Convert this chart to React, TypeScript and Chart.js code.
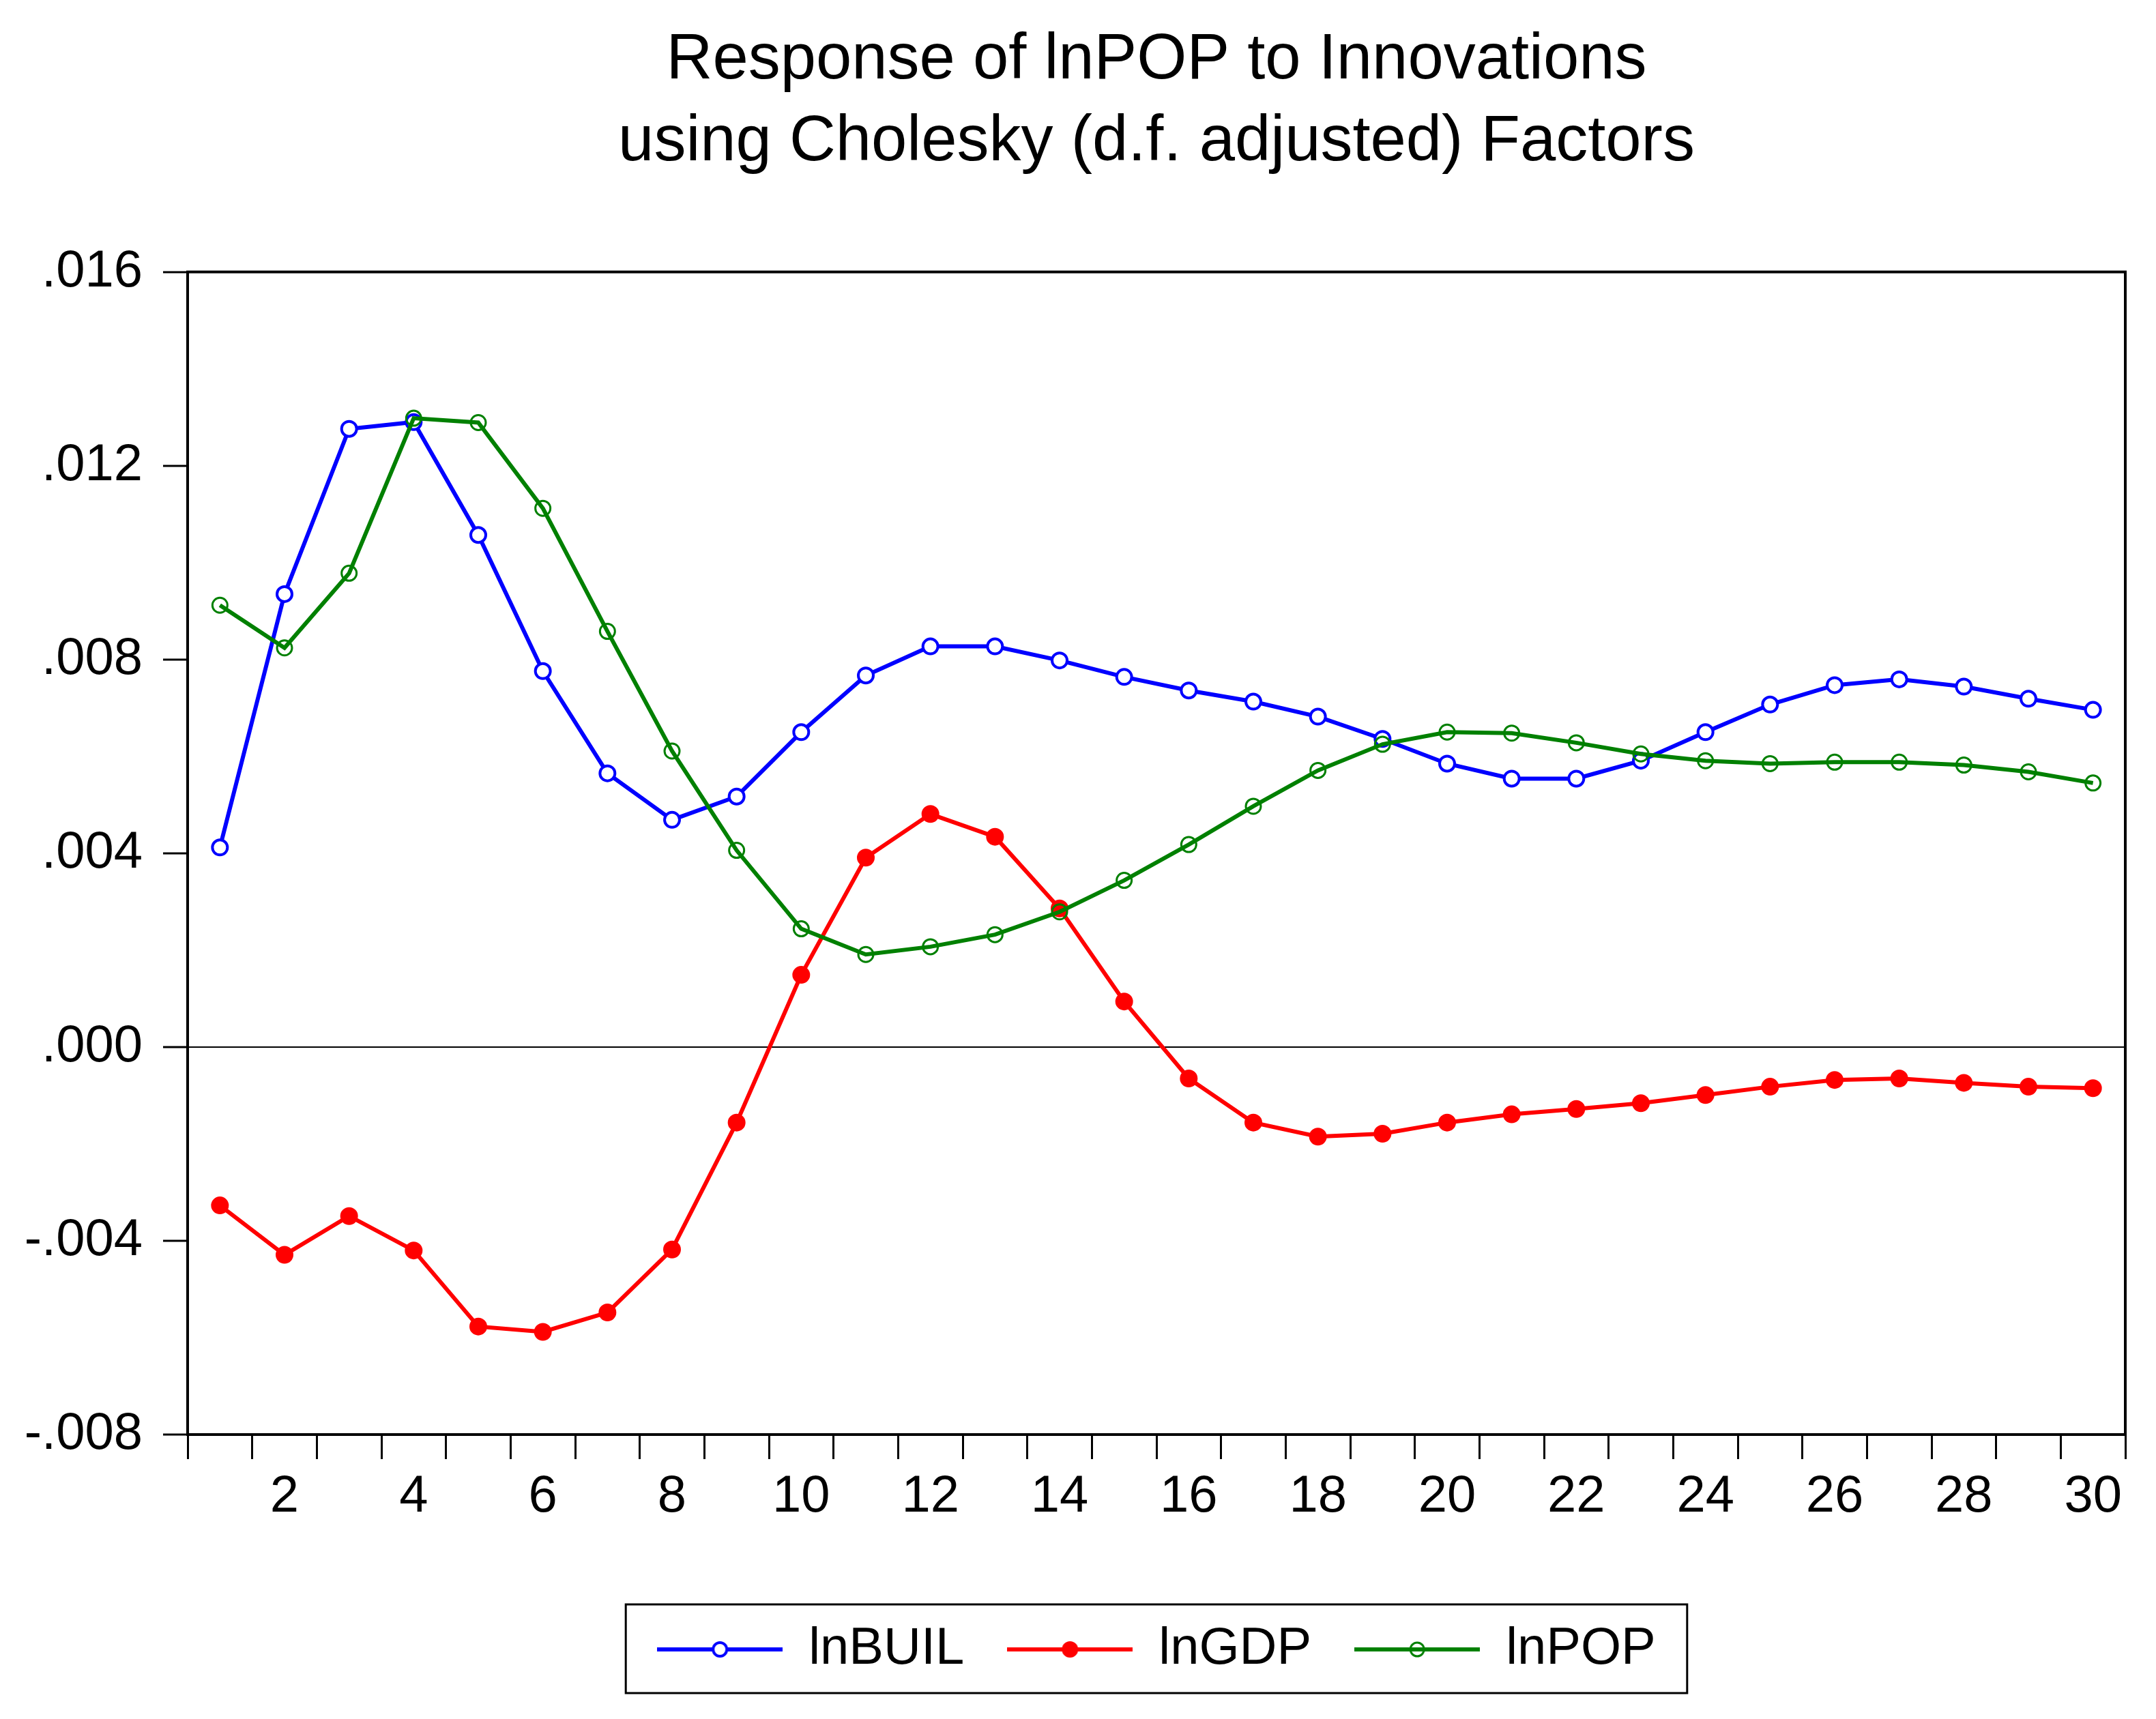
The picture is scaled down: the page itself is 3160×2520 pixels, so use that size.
import { useEffect, useRef } from "react";
import { Chart, registerables } from "chart.js";

Chart.register(...registerables);

const periods = [
  "1", "2", "3", "4", "5", "6", "7", "8", "9", "10",
  "11", "12", "13", "14", "15", "16", "17", "18", "19", "20",
  "21", "22", "23", "24", "25", "26", "27", "28", "29", "30",
];

const lnBUIL = [
  0.00412, 0.00935, 0.01276, 0.0129, 0.01057, 0.00776, 0.00565, 0.00469, 0.00517, 0.0065,
  0.00767, 0.00827, 0.00827, 0.00798, 0.00764, 0.00736, 0.00713, 0.00682, 0.00636, 0.00585,
  0.00554, 0.00554, 0.00591, 0.0065, 0.00707, 0.00747, 0.00759, 0.00744, 0.00719, 0.00696,
];

const lnGDP = [
  -0.00327, -0.00429, -0.00349, -0.0042, -0.00577, -0.00588, -0.00548, -0.00418, -0.00156, 0.00149,
  0.00391, 0.00481, 0.00434, 0.00286, 0.00094, -0.00065, -0.00156, -0.00185, -0.00179, -0.00156,
  -0.00139, -0.00128, -0.00116, -0.00099, -0.00082, -0.00068, -0.00065, -0.00074, -0.00082, -0.00085,
];

const lnPOP = [
  0.00912, 0.00824, 0.00978, 0.01298, 0.01289, 0.01112, 0.00858, 0.00611, 0.00406, 0.00244,
  0.00191, 0.00207, 0.00232, 0.00279, 0.00344, 0.00418, 0.00497, 0.00571, 0.00625, 0.0065,
  0.00648, 0.00628, 0.00605, 0.00591, 0.00585, 0.00588, 0.00588, 0.00582, 0.00568, 0.00545,
];

const titleLines = ["Response of lnPOP to Innovations", "using Cholesky (d.f. adjusted) Factors"];
const yMin = -0.008;
const yMax = 0.016;
const yStep = 0.004;

const FONT = "'Liberation Sans', Arial, sans-serif";

const series = [
  { label: "lnBUIL", data: lnBUIL, color: "#0000ff", fill: "#ffffff", radius: 11, border: 4, order: 2 },
  { label: "lnGDP", data: lnGDP, color: "#ff0000", fill: "#ff0000", radius: 12, border: 2, order: 1 },
  { label: "lnPOP", data: lnPOP, color: "#008000", fill: "rgba(0,0,0,0)", radius: 11, border: 3, order: 0 },
];

// line + marker sample for the legend
function swatch(color: string, fill: string, radius: number, border: number) {
  const c = document.createElement("canvas");
  c.width = 184;
  c.height = 34;
  const g = c.getContext("2d")!;
  g.strokeStyle = color;
  g.lineWidth = 6;
  g.beginPath();
  g.moveTo(0, 17);
  g.lineTo(184, 17);
  g.stroke();
  g.beginPath();
  g.arc(92, 17, radius - 1, 0, Math.PI * 2);
  g.fillStyle = fill;
  g.fill();
  g.lineWidth = border;
  g.stroke();
  return c;
}

const framePlugin = {
  id: "frame",
  afterDatasetsDraw(chart: any) {
    const { ctx, chartArea: a } = chart;
    ctx.save();
    ctx.strokeStyle = "#000";
    ctx.lineWidth = 4;
    ctx.strokeRect(a.left, a.top, a.right - a.left, a.bottom - a.top);
    ctx.restore();
  },
};

const legendBoxPlugin = {
  id: "legendBox",
  afterDraw(chart: any) {
    const boxes = chart.legend?.legendHitBoxes;
    if (!boxes || !boxes.length) return;
    const { ctx } = chart;
    const left = Math.min(...boxes.map((b: any) => b.left)) - 46;
    const right = Math.max(...boxes.map((b: any) => b.left + b.width)) + 46;
    const top = boxes[0].top - 28;
    const bottom = boxes[0].top + boxes[0].height + 26;
    ctx.save();
    ctx.strokeStyle = "#000";
    ctx.lineWidth = 3;
    ctx.strokeRect(left, top, right - left, bottom - top);
    ctx.restore();
  },
};

function formatTick(v: number) {
  if (Math.abs(v) < 1e-9) return ".000";
  const s = Math.abs(v).toFixed(3).replace(/^0/, "");
  return (v < 0 ? "-" : "") + s;
}

function ResponseChart() {
  const canvasRef = useRef<HTMLCanvasElement | null>(null);
  const chartRef = useRef<Chart | null>(null);

  useEffect(() => {
    if (!canvasRef.current) return;
    chartRef.current?.destroy();

    const swatches = series.map((s) => swatch(s.color, s.fill, s.radius, s.border));

    chartRef.current = new Chart(canvasRef.current, {
      type: "line",
      data: {
        labels: periods,
        datasets: series.map((s) => ({
          label: s.label,
          data: s.data,
          borderColor: s.color,
          backgroundColor: s.color,
          borderWidth: 6,
          pointRadius: s.radius,
          pointBorderWidth: s.border,
          pointBackgroundColor: s.fill,
          pointBorderColor: s.color,
          pointStyle: "circle",
          tension: 0,
          order: s.order,
          clip: false as any,
        })),
      },
      plugins: [framePlugin, legendBoxPlugin],
      options: {
        animation: false,
        responsive: true,
        maintainAspectRatio: false,
        devicePixelRatio: 1,
        events: [],
        layout: { padding: { left: 0, right: 45, top: 0, bottom: 54 } },
        plugins: {
          tooltip: { enabled: false },
          title: {
            display: true,
            text: titleLines,
            color: "#000",
            fullSize: false,
            font: { family: FONT, size: 94, weight: "normal", lineHeight: 1.28 },
            padding: { top: 29, bottom: 129 },
          },
          legend: {
            position: "bottom",
            fullSize: false,
            labels: {
              color: "#000",
              font: { family: FONT, size: 76 },
              padding: 63,
              usePointStyle: true,
              pointStyleWidth: 184,
              generateLabels: () =>
                series.map((s, i) => ({
                  text: s.label,
                  pointStyle: swatches[i] as any,
                  fillStyle: s.color,
                  strokeStyle: s.color,
                  lineWidth: 0,
                  hidden: false,
                  datasetIndex: i,
                  fontColor: "#000",
                })),
            },
          },
        },
        scales: {
          x: {
            type: "category",
            offset: true,
            grid: {
              offset: true,
              drawOnChartArea: false,
              color: "#000",
              tickColor: "#000",
              tickLength: 36,
              tickWidth: 3,
              lineWidth: 3,
            },
            border: { color: "#000", width: 4 },
            ticks: {
              autoSkip: false,
              maxRotation: 0,
              minRotation: 0,
              padding: 10,
              color: "#000",
              font: { family: FONT, size: 76 },
              callback: (_v: any, i: number) => ((i + 1) % 2 === 0 ? periods[i] : ""),
            },
            afterFit: (s: any) => {
              s.height = 214;
            },
          },
          y: {
            min: yMin,
            max: yMax,
            grid: {
              color: (c: any) => (c.tick && Math.abs(c.tick.value) < 1e-9 ? "#000" : "rgba(0,0,0,0)"),
              lineWidth: (c: any) => (c.tick && Math.abs(c.tick.value) < 1e-9 ? 2 : 0),
              tickColor: "#000",
              tickLength: 36,
              tickWidth: 3,
            },
            border: { color: "#000", width: 4 },
            ticks: {
              stepSize: yStep,
              padding: 30,
              color: "#000",
              font: { family: FONT, size: 76 },
              callback: (v: any) => formatTick(Number(v)),
            },
            afterFit: (s: any) => {
              s.width = 275;
            },
          },
        },
      },
    });

    return () => {
      chartRef.current?.destroy();
      chartRef.current = null;
    };
  }, []);

  return <canvas ref={canvasRef} />;
}

export default function App() {
  return (
    <div style={{ position: "absolute", left: 0, top: 0, width: 3160, height: 2520, background: "#fff" }}>
      <ResponseChart />
    </div>
  );
}
